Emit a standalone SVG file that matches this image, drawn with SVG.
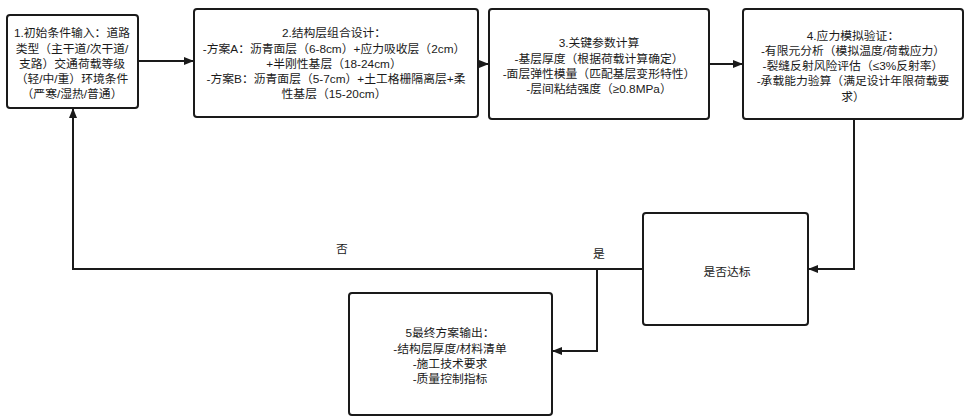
<svg xmlns="http://www.w3.org/2000/svg" width="968" height="417" viewBox="0 0 968 417">
<style>
.box{fill:#fff;stroke:#1a1a1a;stroke-width:2}
.t{font-family:"Liberation Sans","Noto Sans CJK SC",sans-serif;font-size:11.8px;fill:#1a1a1a;text-anchor:middle}
.c{fill:none;stroke:#1a1a1a;stroke-width:2}
</style>
<defs>
<marker id="ah" markerWidth="10" markerHeight="10" refX="9" refY="5" orient="auto" markerUnits="userSpaceOnUse">
<path d="M0,1 L10,5 L0,9 Z" fill="#1a1a1a"/>
</marker>
</defs>
<rect width="968" height="417" fill="#fff"/>
<g id="connectors">
<path class="c" d="M138,61 L193,61" marker-end="url(#ah)"/>
<path class="c" d="M478,64 L488,64" marker-end="url(#ah)"/>
<path class="c" d="M709,64 L742,64" marker-end="url(#ah)"/>
<path class="c" d="M854,119 L854,269 L809,269" marker-end="url(#ah)"/>
<path class="c" d="M643,269 L73,269 L73,109" marker-end="url(#ah)"/>
<path class="c" d="M597,269 L597,351 L553,351" marker-end="url(#ah)"/>
<text class="t" x="342" y="253">否</text>
<text class="t" x="599" y="258">是</text>
</g>
<g id="n1">
<rect class="box" x="7" y="15" width="131" height="93" rx="3"/>
<text class="t" x="72" y="37">1.初始条件输入：道路</text>
<text class="t" x="72" y="53">类型（主干道/次干道/</text>
<text class="t" x="72" y="68">支路）交通荷载等级</text>
<text class="t" x="72" y="83">（轻/中/重）环境条件</text>
<text class="t" x="72" y="98">（严寒/湿热/普通）</text>
</g>
<g id="n2">
<rect class="box" x="194" y="9" width="284" height="108" rx="3"/>
<text class="t" x="334" y="37">2.结构层组合设计：</text>
<text class="t" x="334" y="53">-方案A：沥青面层（6-8cm）+应力吸收层（2cm）</text>
<text class="t" x="334" y="68">+半刚性基层（18-24cm）</text>
<text class="t" x="336" y="83">-方案B：沥青面层（5-7cm）+土工格栅隔离层+柔</text>
<text class="t" x="334" y="98">性基层（15-20cm）</text>
</g>
<g id="n3">
<rect class="box" x="489" y="9" width="220" height="110" rx="3"/>
<text class="t" x="599" y="47">3.关键参数计算</text>
<text class="t" x="599" y="63">-基层厚度（根据荷载计算确定）</text>
<text class="t" x="599" y="78">-面层弹性模量（匹配基层变形特性）</text>
<text class="t" x="599" y="93">-层间粘结强度（≥0.8MPa）</text>
</g>
<g id="n4">
<rect class="box" x="743" y="9" width="220" height="110" rx="3"/>
<text class="t" x="853" y="40">4.应力模拟验证：</text>
<text class="t" x="853" y="55">-有限元分析（模拟温度/荷载应力）</text>
<text class="t" x="853" y="70">-裂缝反射风险评估（≤3%反射率）</text>
<text class="t" x="853" y="85">-承载能力验算（满足设计年限荷载要</text>
<text class="t" x="853" y="101">求）</text>
</g>
<g id="n5">
<rect class="box" x="643" y="213" width="165" height="112" rx="3"/>
<text class="t" x="727" y="276">是否达标</text>
</g>
<g id="n6">
<rect class="box" x="349" y="293" width="203" height="122" rx="3"/>
<text class="t" x="450" y="337">5最终方案输出：</text>
<text class="t" x="450" y="353">-结构层厚度/材料清单</text>
<text class="t" x="450" y="368">-施工技术要求</text>
<text class="t" x="450" y="383">-质量控制指标</text>
</g>
</svg>
